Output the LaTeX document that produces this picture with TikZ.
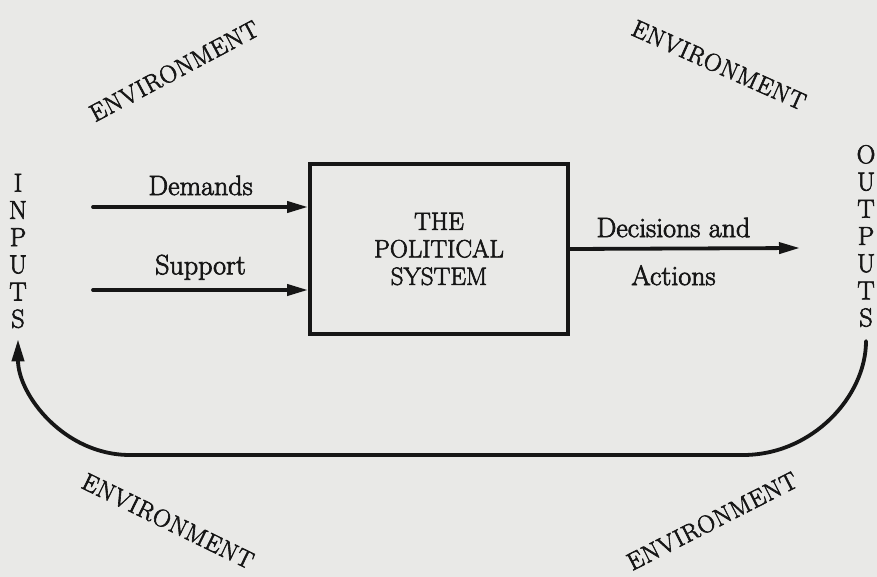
\documentclass[tikz,border=0pt]{standalone}
\usepackage{fontspec}
\usetikzlibrary{arrows.meta,positioning}
\definecolor{paper}{RGB}{233,233,231}
\definecolor{ink}{RGB}{22,22,22}
\newcommand\lettergap{27.2pt}
\newfontfamily\heavyrm[FakeBold=2.5]{Latin Modern Roman}

\begin{document}
\begin{tikzpicture}
  [x=1pt,y=-1pt,
  every node/.style={text=ink,font=\heavyrm\fontsize{28}{30}\selectfont},
  polsys/.style={rectangle,draw=ink,line width=3.8pt,minimum width=258pt,minimum height=170pt,align=center,
    font=\heavyrm\fontsize{25}{27.5}\selectfont},
  flow/.style={draw=ink,line width=3.8pt,line cap=round,-{Triangle[length=21pt,width=11pt]}},
  feedback/.style={draw=ink,line width=3.8pt,line cap=round,-{Triangle[length=22pt,width=12pt]},
    shorten <=14pt,shorten >=11pt},
  letters/.style={align=center,inner sep=0pt,font=\heavyrm\fontsize{26}{\lettergap}\selectfont},
  envlabel/.style={inner sep=0pt,font=\heavyrm\fontsize{24.5}{25}\selectfont\addfontfeatures{LetterSpace=4}}
  ]
  \path[fill=paper,use as bounding box] (0,0) rectangle (877,577);

  % the system and its flows
  \node[polsys] (polsys) at (439,249) {THE\\POLITICAL\\SYSTEM};
  \node[letters] (inputs) at (18,251) {I\\N\\P\\U\\T\\S};
  \node[letters] (outputs) at (866,236) {O\\U\\T\\P\\U\\T\\S};

  \coordinate (demandsin) at (93,207);
  \coordinate (supportin) at (93,290);
  \coordinate (decout) at (800,248);

  \draw[flow] (demandsin) -- node[above=6.5pt] {Demands} (demandsin -| polsys.west);
  \draw[flow] (supportin) -- node[above=5pt] {Support} (supportin -| polsys.west);
  \draw[flow] (polsys.east) -- node[pos=0.45,above=6pt] {Decisions and}
    node[pos=0.45,below=11.5pt] {Actions} (decout);

  % feedback loop
  \coordinate (loopr) at (743,455);
  \coordinate (loopl) at (130,455);
  \draw[feedback] (outputs.south) to[out=-90,in=0] (loopr) -- (loopl)
    to[out=180,in=-90] (inputs.south);

  % surroundings
  \node[envlabel,rotate=28] (envtl) at (174,71) {ENVIRONMENT};
  \node[envlabel,rotate=-24] (envtr) at (719,65) {ENVIRONMENT};
  \node[envlabel,rotate=-26] (envbl) at (168,521) {ENVIRONMENT};
  \node[envlabel,rotate=27] (envbr) at (712,521) {ENVIRONMENT};
\end{tikzpicture}
\end{document}
